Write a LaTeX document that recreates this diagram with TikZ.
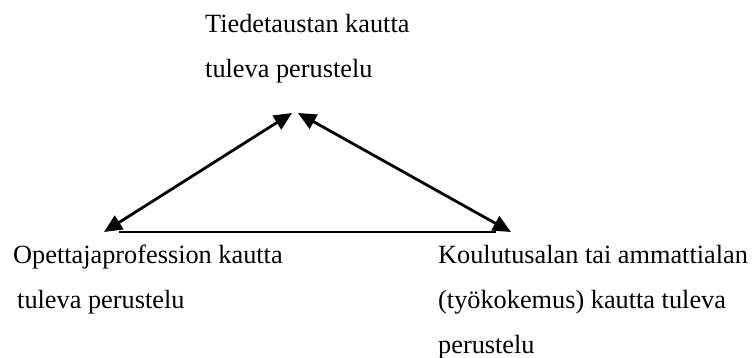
\documentclass[tikz,border=0pt]{standalone}
\usepackage{fontspec}
\setmainfont{Liberation Serif}
\usetikzlibrary{arrows.meta,positioning}

\begin{document}
\begin{tikzpicture}[x=1pt,y=-1pt,
  label/.style={anchor=base west,inner sep=0pt,align=left,
    font=\fontsize{26.3pt}{45pt}\selectfont},
  link/.style={line width=2.8pt,{Triangle[length=18pt,width=16pt]}-{Triangle[length=18pt,width=16pt]}}]
\useasboundingbox (0,0) rectangle (755,358);
% labels (base = last line)
\node[label] (tiede) at (205,78) {Tiedetaustan kautta\\tuleva perustelu};
\node[label] (ope) at (13,308) {Opettajaprofession kautta\\\hspace*{4pt}tuleva perustelu};
\node[label] (koulu) at (438,353) {Koulutusalan tai ammattialan\\(työkokemus) kautta tuleva\\perustelu};
% arrow ends
\coordinate (tiedeL) at (292,113);
\coordinate (tiedeR) at (298,113);
\coordinate (opeT) at (104,232);
\coordinate (kouluT) at (511,232);
\path[link]
(tiedeL) edge (opeT)
(tiedeR) edge (kouluT)
;
\path[line width=2.8pt]
(opeT) edge [shorten <=15pt, shorten >=15pt] (kouluT)
;
\end{tikzpicture}
\end{document}
